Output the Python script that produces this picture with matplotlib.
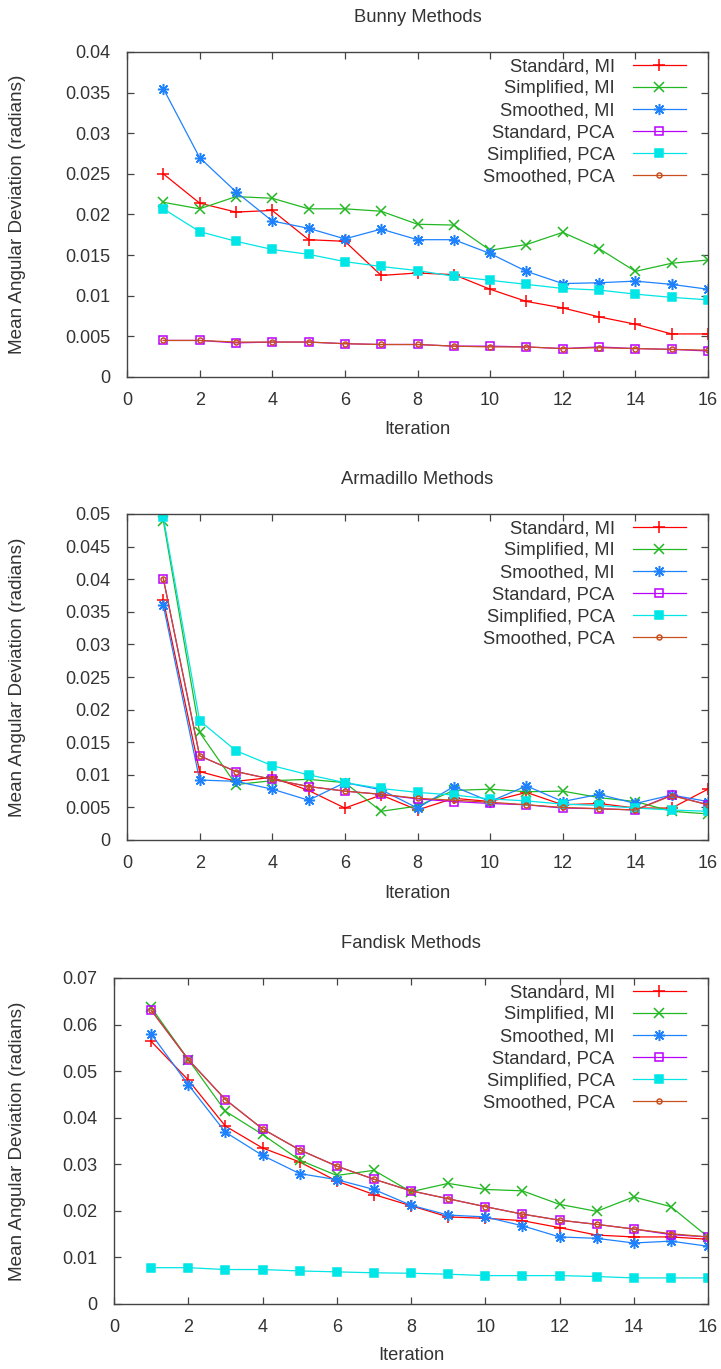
import matplotlib
matplotlib.use("Agg")
import matplotlib.pyplot as plt
from matplotlib.ticker import MultipleLocator, FuncFormatter

plt.rcParams['font.family'] = ['Liberation Sans', 'DejaVu Sans']

iterations = list(range(1, 17))

series_names = ["Standard, MI", "Simplified, MI", "Smoothed, MI",
                "Standard, PCA", "Simplified, PCA", "Smoothed, PCA"]

# Bunny
bunny_standard_mi = [0.0250, 0.0214, 0.0203, 0.0205, 0.0169, 0.0167, 0.0125, 0.0128,
                     0.0126, 0.0108, 0.0093, 0.0085, 0.0074, 0.0065, 0.0053, 0.0053]
bunny_simplified_mi = [0.0215, 0.0207, 0.0222, 0.0220, 0.0207, 0.0207, 0.0204, 0.0188,
                       0.0187, 0.0156, 0.0163, 0.0178, 0.0158, 0.0130, 0.0140, 0.0144]
bunny_smoothed_mi = [0.0355, 0.0270, 0.0228, 0.0192, 0.0183, 0.0170, 0.0182, 0.0169,
                     0.0169, 0.0152, 0.0130, 0.0115, 0.0116, 0.0118, 0.0114, 0.0108]
bunny_standard_pca = [0.0045, 0.0045, 0.0042, 0.0043, 0.0043, 0.0041, 0.0040, 0.0040,
                      0.0038, 0.0038, 0.0037, 0.0035, 0.0037, 0.0035, 0.0034, 0.0032]
bunny_simplified_pca = [0.0207, 0.0179, 0.0167, 0.0157, 0.0151, 0.0142, 0.0136, 0.0131,
                        0.0124, 0.0119, 0.0114, 0.0109, 0.0107, 0.0102, 0.0098, 0.0095]
bunny_smoothed_pca = [0.0045, 0.0045, 0.0043, 0.0043, 0.0043, 0.0041, 0.0040, 0.0040,
                      0.0038, 0.0037, 0.0037, 0.0035, 0.0036, 0.0035, 0.0034, 0.0033]

# Armadillo
arm_standard_mi = [0.0368, 0.0105, 0.0090, 0.0096, 0.0076, 0.0049, 0.0069, 0.0046,
                   0.0064, 0.0059, 0.0073, 0.0054, 0.0056, 0.0049, 0.0049, 0.0078]
arm_simplified_mi = [0.0490, 0.0165, 0.0085, 0.0091, 0.0093, 0.0088, 0.0044, 0.0052,
                     0.0076, 0.0078, 0.0074, 0.0075, 0.0065, 0.0059, 0.0044, 0.0040]
arm_smoothed_mi = [0.0360, 0.0092, 0.0090, 0.0078, 0.0061, 0.0088, 0.0077, 0.0049,
                   0.0082, 0.0059, 0.0083, 0.0059, 0.0070, 0.0056, 0.0069, 0.0059]
arm_standard_pca = [0.0401, 0.0129, 0.0105, 0.0093, 0.0082, 0.0075, 0.0070, 0.0063,
                    0.0059, 0.0056, 0.0054, 0.0049, 0.0048, 0.0046, 0.0069, 0.0054]
arm_simplified_pca = [0.0495, 0.0183, 0.0137, 0.0114, 0.0100, 0.0088, 0.0079, 0.0073,
                      0.0069, 0.0063, 0.0060, 0.0055, 0.0053, 0.0049, 0.0046, 0.0044]
arm_smoothed_pca = [0.0401, 0.0129, 0.0105, 0.0093, 0.0082, 0.0075, 0.0070, 0.0064,
                    0.0061, 0.0058, 0.0054, 0.0050, 0.0048, 0.0046, 0.0068, 0.0054]

# Fandisk
fan_standard_mi = [0.0564, 0.0481, 0.0382, 0.0335, 0.0305, 0.0264, 0.0235, 0.0211,
                   0.0187, 0.0184, 0.0179, 0.0164, 0.0148, 0.0144, 0.0144, 0.0139]
fan_simplified_mi = [0.0637, 0.0525, 0.0414, 0.0364, 0.0309, 0.0276, 0.0287, 0.0241,
                     0.0259, 0.0246, 0.0243, 0.0214, 0.0199, 0.0230, 0.0209, 0.0144]
fan_smoothed_mi = [0.0580, 0.0471, 0.0369, 0.0319, 0.0280, 0.0267, 0.0246, 0.0212,
                   0.0191, 0.0187, 0.0168, 0.0144, 0.0141, 0.0131, 0.0135, 0.0124]
fan_standard_pca = [0.0631, 0.0525, 0.0439, 0.0376, 0.0331, 0.0296, 0.0268, 0.0243,
                    0.0226, 0.0209, 0.0193, 0.0180, 0.0171, 0.0161, 0.0149, 0.0144]
fan_simplified_pca = [0.0078, 0.0078, 0.0074, 0.0074, 0.0071, 0.0069, 0.0067, 0.0066,
                      0.0064, 0.0061, 0.0061, 0.0061, 0.0059, 0.0056, 0.0056, 0.0056]
fan_smoothed_pca = [0.0631, 0.0525, 0.0439, 0.0376, 0.0331, 0.0296, 0.0268, 0.0243,
                    0.0226, 0.0209, 0.0193, 0.0180, 0.0171, 0.0161, 0.0151, 0.0144]

panels = [
    ("Bunny Methods", [bunny_standard_mi, bunny_simplified_mi, bunny_smoothed_mi,
                       bunny_standard_pca, bunny_simplified_pca, bunny_smoothed_pca],
     0.04, 0.005),
    ("Armadillo Methods", [arm_standard_mi, arm_simplified_mi, arm_smoothed_mi,
                           arm_standard_pca, arm_simplified_pca, arm_smoothed_pca],
     0.05, 0.005),
    ("Fandisk Methods", [fan_standard_mi, fan_simplified_mi, fan_smoothed_mi,
                         fan_standard_pca, fan_simplified_pca, fan_smoothed_pca],
     0.07, 0.01),
]

# gnuplot-like line/point styles
styles = [
    dict(color="#ff0000", marker="+", ms=8, filled=False),
    dict(color="#22b822", marker="x", ms=6.5, filled=False),
    dict(color="#1e82ff", marker=(8, 2, 0), ms=8, filled=False),
    dict(color="#b800ff", marker="s", ms=6.4, filled=False),
    dict(color="#00e5e5", marker="s", ms=5.8, filled=True),
    dict(color="#c8501e", marker="o", ms=3.6, filled=False),
]

W, H = 721, 1369
fig = plt.figure(figsize=(W / 100, H / 100), dpi=100)

# axes boxes in pixels: left, right, top, bottom
boxes = [(127, 708, 52, 377), (127, 708, 514, 840), (114, 708, 978, 1304)]
title_y = [18, 480, 944]
xlabel_y = [430, 893, 1356]

text_color = "#333333"
spine_color = "#444444"
FS = 13.2

for (title, data, ymax, ystep), (l, r, t, b), ty, xy in zip(panels, boxes, title_y, xlabel_y):
    ax = fig.add_axes([l / W, 1 - b / H, (r - l) / W, (b - t) / H])
    for name, vals, st in zip(series_names, data, styles):
        mfc = st["color"] if st["filled"] else "none"
        ax.plot(iterations, vals, color=st["color"], lw=0.9, marker=st["marker"],
                ms=st["ms"], mfc=mfc, mec=st["color"], mew=1.1, label=name)
    ax.set_xlim(0, 16)
    ax.set_ylim(0, ymax)
    ax.xaxis.set_major_locator(MultipleLocator(2))
    ax.yaxis.set_major_locator(MultipleLocator(ystep))
    ax.yaxis.set_major_formatter(FuncFormatter(lambda v, p: "%g" % round(v, 4)))
    ax.tick_params(direction="in", top=True, right=True, length=5, width=0.9,
                   colors=spine_color, labelcolor=text_color, labelsize=13)
    ax.tick_params(axis="y", pad=12)
    ax.tick_params(axis="x", pad=10.5)
    for s in ax.spines.values():
        s.set_color(spine_color)
        s.set_linewidth(1.0)
    fig.text((l + r) / 2 / W, 1 - ty / H, title, ha="center", va="center",
             fontsize=FS, color=text_color)
    fig.text((l + r) / 2 / W, 1 - xy / H, "Iteration", ha="center", va="center",
             fontsize=FS, color=text_color)
    fig.text(18 / W, 1 - (t + b) / 2 / H, "Mean Angular Deviation (radians)",
             rotation=90, ha="center", va="center", fontsize=13.6, color=text_color)
    leg = ax.legend(loc="upper right", bbox_to_anchor=(1 - 22 / (r - l), 1 - 6 / (b - t)),
                    frameon=False, markerfirst=False, fontsize=FS, handlelength=2.9,
                    handletextpad=1.0, labelspacing=0.28, borderpad=0, borderaxespad=0)
    for txt in leg.get_texts():
        txt.set_color(text_color)

fig.savefig("out.png", dpi=100)
